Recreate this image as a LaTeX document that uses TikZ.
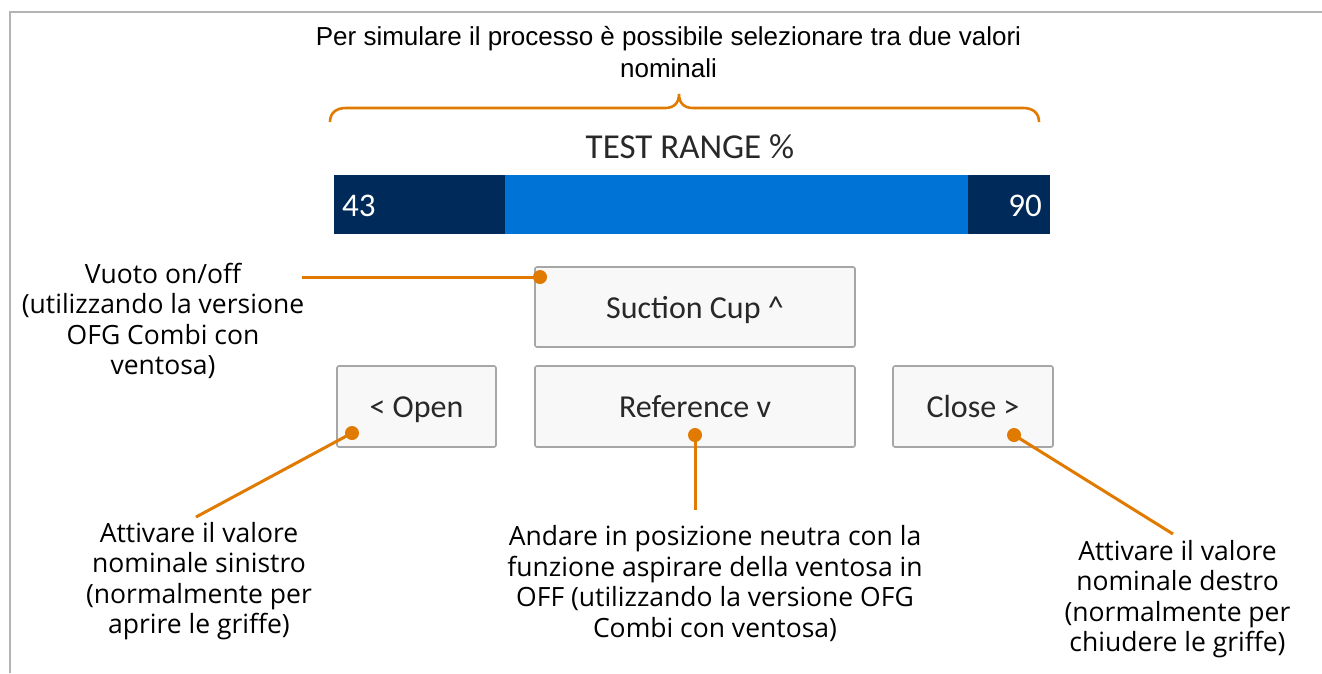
\documentclass[tikz,border=0pt]{standalone}
\usepackage{fontspec}
\setmainfont{Open Sans}
\newfontfamily\arialf{Liberation Sans}
\newfontfamily\calf{Carlito}
\definecolor{orng}{RGB}{224,122,0}
\definecolor{navy}{RGB}{0,42,90}
\definecolor{barblue}{RGB}{0,115,214}
\definecolor{btnfill}{RGB}{248,248,248}
\definecolor{btnline}{RGB}{166,166,166}
\definecolor{framegray}{RGB}{180,180,180}
\definecolor{btntext}{RGB}{40,40,40}
\begin{document}
\begin{tikzpicture}[x=1pt,y=-1pt,
  lab/.style={align=center, inner sep=0pt, anchor=base, font=\fontsize{26.5}{30.5}\selectfont, text=black},
  btn/.style={draw=btnline, line width=1.6pt, fill=btnfill, rounded corners=2pt, inner sep=0pt,
    minimum height=80pt, text=btntext, text height=26pt, text depth=4pt, font=\calf\fontsize{32}{38}\selectfont},
  dot/.style={circle, fill=orng, inner sep=0pt, minimum size=14pt},
  conn/.style={draw=orng, line width=3pt},
  barseg/.style={inner sep=0pt, minimum height=59pt, anchor=north west}]
\useasboundingbox (0,0) rectangle (1322,673);
% frame
\draw[framegray, line width=1.5pt] (10,673) -- (10,12) -- (1322,12);
% title (base anchor = last line baseline)
\node[anchor=base, align=center, inner sep=0pt, font=\arialf\fontsize{26}{32}\selectfont] (title) at (668.5,77.5)
  {Per simulare il processo è possibile selezionare tra due valori\\nominali};
% brace
\draw[orng, line width=2.6pt] (330,122) .. controls (330,113) and (336,108) .. (346,108)
  -- (665,108) .. controls (674,108) and (679,103) .. (679,94)
  .. controls (679,103) and (684,108) .. (693,108)
  -- (1023,108) .. controls (1033,108) and (1039,113) .. (1039,122);
% test range
\node[anchor=base, inner sep=0pt, text=btntext, font=\calf\fontsize{35}{40}\selectfont] (trange) at (690,158) {TEST RANGE \%};
\node[barseg, fill=barblue, minimum width=716pt] (bar) at (334,175) {};
\node[barseg, fill=navy, minimum width=171pt] (barL) at (334,175) {};
\node[barseg, fill=navy, minimum width=82pt] (barR) at (968,175) {};
\node[anchor=base west, inner sep=0pt, text=white, font=\calf\fontsize{33}{38}\selectfont] (v43) at (342,216) {43};
\node[anchor=base east, inner sep=0pt, text=white, font=\calf\fontsize{33}{38}\selectfont] (v90) at (1042,216) {90};
% buttons
\node[btn, minimum width=320pt] (suction) at (695,307) {Suction Cup \^{}};
\node[btn, minimum width=159pt, minimum height=81pt] (open) at (416.5,406.5) {< Open};
\node[btn, minimum width=320pt, minimum height=81pt] (ref) at (695,406.5) {Reference v};
\node[btn, minimum width=160pt, minimum height=81pt] (close) at (973,406.5) {Close >};
% labels (base anchor = last line baseline)
\node[lab] (lVuoto) at (163,374.5) {Vuoto on/off\\(utilizzando la versione\\OFG Combi con\\ventosa)};
\node[lab] (lOpen) at (199,633.5) {Attivare il valore\\nominale sinistro\\(normalmente per\\aprire le griffe)};
\node[lab] (lRef) at (715,637) {Andare in posizione neutra con la\\funzione aspirare della ventosa in\\OFF (utilizzando la versione OFG\\Combi con ventosa)};
\node[lab] (lClose) at (1177.5,651.5) {Attivare il valore\\nominale destro\\(normalmente per\\chiudere le griffe)};
% connector ends
\coordinate (eVuoto) at (302,277);
\coordinate (eOpen) at (196,517);
\coordinate (eRef) at (695,510);
\coordinate (eClose) at (1173,534);
\node[dot] (dSuction) at (540,277) {};
\node[dot] (dOpen) at (352,433) {};
\node[dot] (dRef) at (695,435) {};
\node[dot] (dClose) at (1014,435) {};
\draw[conn] (eVuoto) -- (dSuction.center);
\draw[conn] (eOpen) -- (dOpen.center);
\draw[conn] (eRef) -- (dRef.center);
\draw[conn] (eClose) -- (dClose.center);
\end{tikzpicture}
\end{document}
